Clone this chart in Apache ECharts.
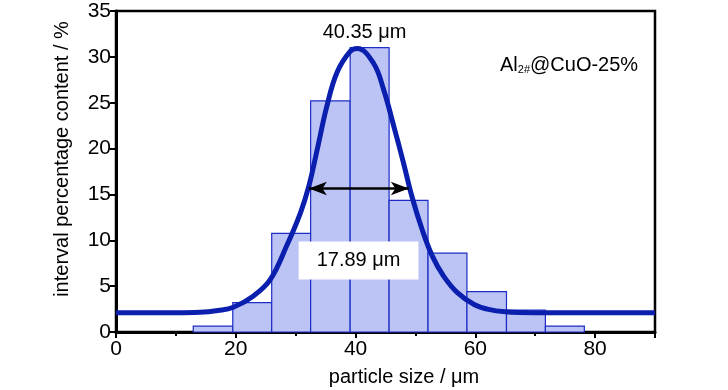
<!DOCTYPE html>
<html><head><meta charset="utf-8">
<script src="https://cdn.jsdelivr.net/npm/echarts@6/dist/echarts.min.js"></script>
<style>html,body{margin:0;padding:0;background:#fff}#c{width:728px;height:390px}</style>
</head><body><div id="c"></div>
<script>
// Histogram bins (particle size, µm) and interval percentage content (%)
var binStart = [12.9, 19.5, 26.0, 32.5, 39.1, 45.6, 52.1, 58.6, 65.2, 71.7];
var binEnd   = [19.5, 26.0, 32.5, 39.1, 45.6, 52.1, 58.6, 65.2, 71.7, 78.2];
var binValue = [0.65, 3.2, 10.75, 25.2, 31.0, 14.35, 8.6, 4.4, 2.4, 0.65];
// Fitted curve, points
var curveX = [0, 10, 14, 17, 19.6, 22.9, 25.75, 28.5, 30.8, 32.2, 33.6, 35.2, 36.9, 39.1, 40.3, 43.0, 44.7, 46.4, 48.0, 49.4, 51.1, 52.8, 54.7, 57.0, 59.8, 62.0, 65.0, 70.0, 90.0];
var curveY = [2.1, 2.1, 2.15, 2.35, 2.7, 3.9, 5.7, 9.4, 13.0, 15.9, 19.9, 24.6, 28.3, 30.6, 30.9, 29.3, 26.4, 22.4, 18.45, 14.8, 11.2, 8.3, 6.1, 4.3, 3.0, 2.5, 2.2, 2.1, 2.1];
// Annotations
var peakLabel = '40.35 μm';
var peakLabelPos = [41.5, 32.7];
var fwhmLabel = '17.89 μm';
var fwhmLabelPos = [40.5, 7.8];
var fwhmArrow = [[32.2, 15.65], [48.9, 15.65]];
var xTicks = [0, 20, 40, 60, 80];
var yTicks = [0, 5, 10, 15, 20, 25, 30, 35];

var font = 'Liberation Sans, Arial, sans-serif';
var chart = echarts.init(document.getElementById('c'));
var bins = binStart.map(function (s, i) { return [s, binEnd[i], binValue[i]]; });
var curve = curveX.map(function (x, i) { return [x, curveY[i]]; });

chart.setOption({
  animation: false,
  grid: { left: 116, right: 73, top: 11, bottom: 58, show: true, borderColor: '#000', borderWidth: 2.5, backgroundColor: 'transparent' },
  xAxis: {
    type: 'value', min: 0, max: 90, interval: 20,
    axisLine: { lineStyle: { color: '#000', width: 3 } },
    axisTick: { length: 6, lineStyle: { width: 2, color: '#000' } },
    minorTick: { show: true, splitNumber: 2, length: 4, lineStyle: { width: 2, color: '#000' } },
    splitLine: { show: false },
    axisLabel: { fontSize: 21, color: '#000', fontFamily: font, margin: 7, showMaxLabel: false,
      formatter: function (v) { return xTicks.indexOf(v) >= 0 ? String(v) : ''; } }
  },
  yAxis: {
    type: 'value', min: 0, max: 35, interval: 5,
    axisLine: { show: true, lineStyle: { color: '#000', width: 3 } },
    axisTick: { show: true, length: 6, lineStyle: { width: 2, color: '#000' } },
    splitLine: { show: false },
    axisLabel: { fontSize: 21, color: '#000', fontFamily: font, margin: 5,
      formatter: function (v) { return yTicks.indexOf(v) >= 0 ? String(v) : ''; } }
  },
  graphic: [
    { type: 'text', rotation: Math.PI / 2, x: 62, y: 159,
      style: { text: 'interval percentage content / %', font: '20px ' + font, fill: '#000', textAlign: 'center', textVerticalAlign: 'middle' } },
    { type: 'text', x: 404, y: 377,
      style: { text: 'particle size / μm', font: '20px ' + font, fill: '#000', textAlign: 'center', textVerticalAlign: 'middle' } },
    { type: 'text', x: 500, y: 65,
      style: { text: '{n|Al}{s|2#}{n|@CuO-25%}', textVerticalAlign: 'middle',
        rich: { n: { fontSize: 20, fontFamily: font, color: '#000' },
                s: { fontSize: 11, fontFamily: font, color: '#000', padding: [9, 0, 0, 0] } } } }
  ],
  series: [
    {
      type: 'custom', data: bins, z: 2,
      renderItem: function (params, api) {
        var p0 = api.coord([api.value(0), api.value(2)]);
        var p1 = api.coord([api.value(1), 0]);
        return { type: 'rect', shape: { x: p0[0], y: p0[1], width: p1[0] - p0[0], height: p1[1] - p0[1] },
          style: { fill: '#bcc4f6', stroke: '#1c2cc4', lineWidth: 1.2 } };
      }
    },
    {
      type: 'line', data: curve, smooth: 0.4, showSymbol: false, z: 3,
      lineStyle: { color: '#0b1fae', width: 5 },
      markLine: {
        silent: true, symbol: ['arrow', 'arrow'], symbolSize: [10, 18],
        lineStyle: { color: '#000', width: 2.5, type: 'solid' }, label: { show: false },
        data: [[{ coord: fwhmArrow[0] }, { coord: fwhmArrow[1] }]]
      },
      markPoint: {
        silent: true, symbol: 'rect', symbolSize: 0,
        data: [
          { coord: peakLabelPos, label: { show: true, formatter: peakLabel, fontSize: 20, fontFamily: font, color: '#000', position: 'inside' } },
          { coord: fwhmLabelPos, label: { show: true, formatter: fwhmLabel, fontSize: 20, fontFamily: font, color: '#000', position: 'inside',
              backgroundColor: '#fff', padding: [9, 18, 9, 18] } }
        ]
      }
    }
  ]
});
</script></body></html>
